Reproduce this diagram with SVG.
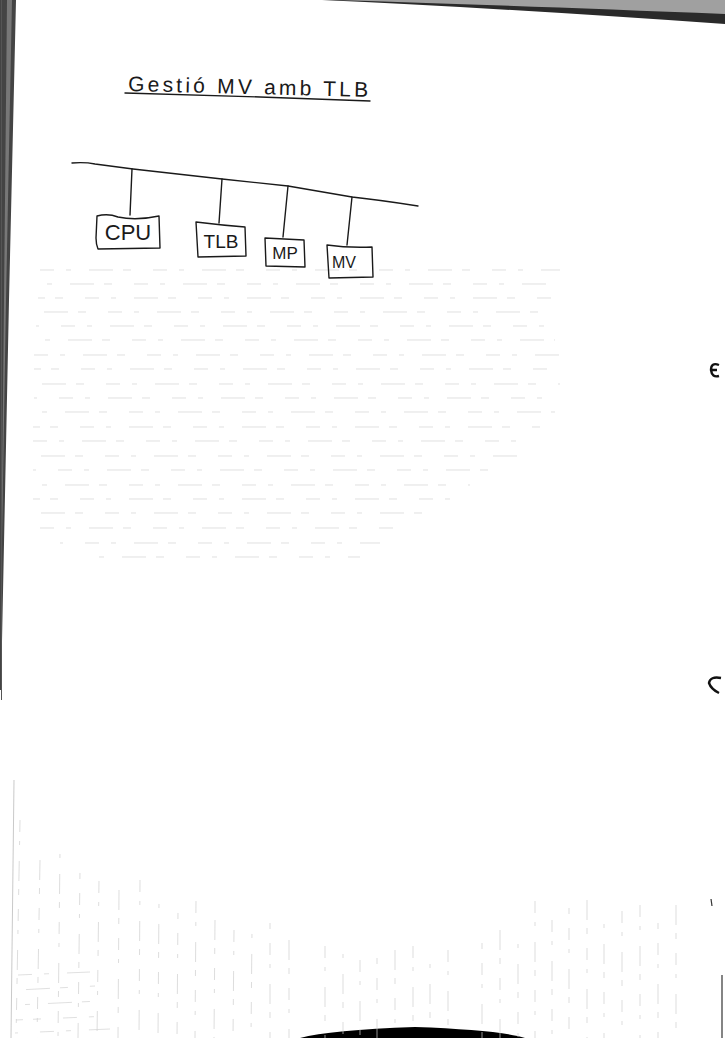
<svg xmlns="http://www.w3.org/2000/svg" width="725" height="1038" viewBox="0 0 725 1038">
<style>
.ink{fill:none;stroke:#1a1a1a;stroke-width:1.4;stroke-linecap:round;stroke-linejoin:round}
.lbl{font-family:"Liberation Sans","DejaVu Sans",sans-serif;fill:#1a1a1a;font-weight:normal}
.gh{stroke:#d2d2d2;stroke-width:0.7;stroke-dasharray:14 12 5 18 24 10 8 22}
.gv{stroke:#cfcfcf;stroke-width:0.7;stroke-dasharray:12 9 4 16 20 8 6 14}
.o1{stroke-dashoffset:17}.o2{stroke-dashoffset:41}.o3{stroke-dashoffset:66}.o4{stroke-dashoffset:88}
</style>
<rect width="725" height="1038" fill="#ffffff"/>
<g id="page-artifacts">
<polygon points="3,0 16,0 9,300 1,690 0,690 0,0" fill="#444"/>
<polygon points="7,0 12,0 6,300 1,600" fill="#999" opacity="0.6"/>
<line x1="1.5" y1="0" x2="1.5" y2="700" stroke="#555" stroke-width="1"/>
<line x1="14" y1="780" x2="11" y2="1038" stroke="#bbb" stroke-width="0.8"/>
<path d="M322,0 Q500,8 725,24 L725,0 Z" fill="#2a2a2a"/>
<path d="M335,0 Q500,5 725,14 L725,0 Z" fill="#a0a0a0"/>
<path d="M300,1038 Q330,1030 415,1027 Q500,1030 525,1038 Z" fill="#000"/>
<line x1="722" y1="975" x2="722" y2="1038" stroke="#333" stroke-width="1.2"/>
<path d="M719,365 Q711,362 711,370 Q712,378 719,376 M712,370 L717,370" fill="none" stroke="#111" stroke-width="2.4"/>
<path d="M721,678 Q710,676 709,683 Q711,689 719,693" fill="none" stroke="#111" stroke-width="2.4"/>
<path d="M711,899 L712,906" fill="none" stroke="#333" stroke-width="1.2"/>
</g>
<g id="ruling">
<line class="gh" x1="40" y1="270" x2="560" y2="270"/>
<line class="gh o1" x1="38" y1="284" x2="555" y2="284"/>
<line class="gh o3" x1="38" y1="298" x2="560" y2="298"/>
<line class="gh o2" x1="36" y1="312" x2="550" y2="312"/>
<line class="gh o4" x1="36" y1="326" x2="560" y2="326"/>
<line class="gh o1" x1="36" y1="340" x2="555" y2="340"/>
<line class="gh" x1="34" y1="355" x2="560" y2="355"/>
<line class="gh o3" x1="34" y1="369" x2="550" y2="369"/>
<line class="gh o2" x1="34" y1="384" x2="560" y2="384"/>
<line class="gh o4" x1="34" y1="398" x2="545" y2="398"/>
<line class="gh o1" x1="33" y1="412" x2="555" y2="412"/>
<line class="gh o3" x1="33" y1="427" x2="540" y2="427"/>
<line class="gh" x1="33" y1="441" x2="530" y2="441"/>
<line class="gh o2" x1="33" y1="456" x2="520" y2="456"/>
<line class="gh o4" x1="33" y1="470" x2="500" y2="470"/>
<line class="gh o1" x1="33" y1="485" x2="470" y2="485"/>
<line class="gh o3" x1="33" y1="499" x2="460" y2="499"/>
<line class="gh o2" x1="33" y1="513" x2="430" y2="513"/>
<line class="gh" x1="40" y1="528" x2="400" y2="528"/>
<line class="gh o4" x1="60" y1="543" x2="380" y2="543"/>
<line class="gh o1" x1="90" y1="557" x2="360" y2="557"/>
<line class="gv" x1="20" y1="820" x2="16" y2="1038"/>
<line class="gv o2" x1="40" y1="860" x2="37" y2="1038"/>
<line class="gv o1" x1="60" y1="850" x2="58" y2="1038"/>
<line class="gv o3" x1="80" y1="870" x2="78" y2="1038"/>
<line class="gv o4" x1="99" y1="880" x2="97" y2="1038"/>
<line class="gv o2" x1="119" y1="890" x2="118" y2="1038"/>
<line class="gv" x1="140" y1="880" x2="139" y2="1038"/>
<line class="gv o1" x1="159" y1="900" x2="158" y2="1038"/>
<line class="gv o3" x1="178" y1="910" x2="177" y2="1038"/>
<line class="gv o4" x1="196" y1="900" x2="195" y2="1038"/>
<line class="gv o2" x1="215" y1="920" x2="214" y2="1038"/>
<line class="gv" x1="234" y1="930" x2="233" y2="1038"/>
<line class="gv o1" x1="252" y1="930" x2="251" y2="1038"/>
<line class="gv o3" x1="270" y1="920" x2="270" y2="1038"/>
<line class="gv o2" x1="289" y1="940" x2="289" y2="1038"/>
<line class="gv o4" x1="325" y1="945" x2="325" y2="1038"/>
<line class="gv o1" x1="343" y1="950" x2="343" y2="1038"/>
<line class="gv" x1="360" y1="960" x2="360" y2="1038"/>
<line class="gv o3" x1="377" y1="955" x2="377" y2="1038"/>
<line class="gv o2" x1="395" y1="950" x2="395" y2="1030"/>
<line class="gv o4" x1="413" y1="945" x2="413" y2="1030"/>
<line class="gv o1" x1="430" y1="960" x2="430" y2="1030"/>
<line class="gv" x1="448" y1="950" x2="448" y2="1030"/>
<line class="gv o3" x1="482" y1="940" x2="482" y2="1038"/>
<line class="gv o2" x1="500" y1="930" x2="500" y2="1038"/>
<line class="gv o1" x1="518" y1="940" x2="518" y2="1038"/>
<line class="gv o4" x1="535" y1="900" x2="535" y2="1038"/>
<line class="gv" x1="552" y1="920" x2="552" y2="1038"/>
<line class="gv o3" x1="569" y1="905" x2="569" y2="1038"/>
<line class="gv o2" x1="587" y1="900" x2="587" y2="1038"/>
<line class="gv o1" x1="604" y1="920" x2="604" y2="1038"/>
<line class="gv o4" x1="622" y1="910" x2="622" y2="1038"/>
<line class="gv" x1="640" y1="905" x2="640" y2="1038"/>
<line class="gv o3" x1="658" y1="920" x2="658" y2="1038"/>
<line class="gv o2" x1="676" y1="905" x2="676" y2="1038"/>
<line class="gh" x1="18" y1="975" x2="90" y2="972"/>
<line class="gh o2" x1="18" y1="990" x2="95" y2="986"/>
<line class="gh o1" x1="16" y1="1005" x2="100" y2="1001"/>
<line class="gh o3" x1="16" y1="1020" x2="110" y2="1016"/>
<line class="gh o4" x1="15" y1="1033" x2="110" y2="1029"/>
</g>
<g id="title">
<text class="lbl" x="128" y="91" font-size="21" textLength="240" lengthAdjust="spacing" transform="rotate(1.4 128 91)">Gestió MV amb TLB</text>
<path class="ink" d="M125,93 Q200,95 260,97 Q320,99 370,101"/>
</g>
<g id="connectors">
<path class="ink" d="M72,163 Q85,162 95,164 L133,169 L222,179 L288,186 L352,197 Q380,200 418,206"/>
<path class="ink" d="M132,169 L130,215"/>
<path class="ink" d="M222,179 L219,223"/>
<path class="ink" d="M288,186 L283,237"/>
<path class="ink" d="M352,197 L347,245"/>
</g>
<g id="node-cpu">
<path class="ink" d="M97,216 Q108,213 118,217 Q136,221 159,216 L160,248 L98,249 Q96,244 96,238 Z"/>
<text class="lbl" x="128" y="240" font-size="22" text-anchor="middle">CPU</text>
</g>
<g id="node-tlb">
<path class="ink" d="M196,222 Q220,225 245,227 L246,256 L198,257 Z"/>
<text class="lbl" x="221" y="248" font-size="19" text-anchor="middle">TLB</text>
</g>
<g id="node-mp">
<path class="ink" d="M265,238 L304,240 L305,267 L266,266 Z"/>
<text class="lbl" x="285" y="259" font-size="17" text-anchor="middle">MP</text>
</g>
<g id="node-mv">
<path class="ink" d="M327,245 Q348,248 372,247 L373,277 L329,278 Z"/>
<text class="lbl" x="344" y="268" font-size="16" text-anchor="middle">MV</text>
</g>
</svg>
